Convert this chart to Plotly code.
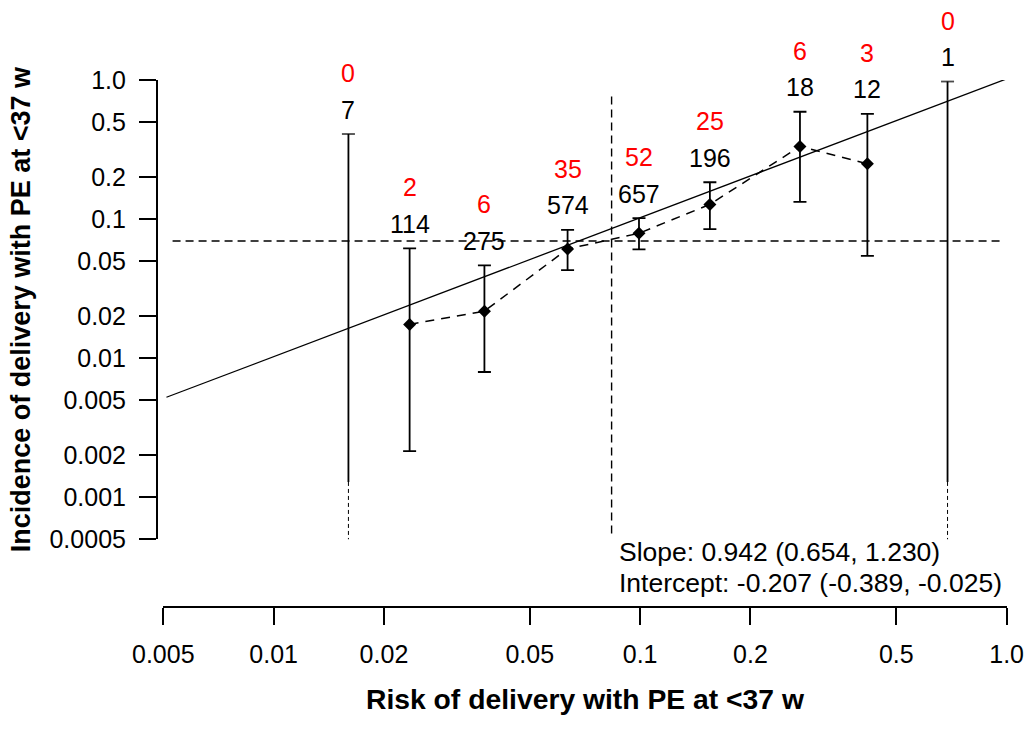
import numpy as np
import plotly.graph_objects as go

# ---------------- data ----------------
predicted = [0.0160, 0.0235, 0.0376, 0.0634, 0.0993, 0.155, 0.273, 0.417, 0.690]
n_total = [7, 114, 275, 574, 657, 196, 18, 12, 1]
n_events = [0, 2, 6, 35, 52, 25, 6, 3, 0]
observed = [None, 0.0175, 0.0218, 0.0610, 0.0791, 0.1276, 0.333, 0.250, None]
ci_upper = [0.409, 0.0617, 0.0465, 0.0836, 0.1015, 0.184, 0.591, 0.570, 0.975]
ci_lower = [None, 0.00215, 0.00796, 0.0430, 0.0605, 0.0848, 0.133, 0.0545, None]
zero_lower_solid = 0.00129     # where the solid bar of a 0-event bin stops
zero_lower_dashed = 0.00047    # where its dashed continuation stops
overall_incidence = 0.0696
mean_risk = 0.0836
cal_x = [0.0051, 1.054]
cal_y = [0.00524, 1.074]
x_ticks = [0.005, 0.01, 0.02, 0.05, 0.1, 0.2, 0.5, 1.0]
x_ticktext = ["0.005", "0.01", "0.02", "0.05", "0.1", "0.2", "0.5", "1.0"]
y_ticks = [0.0005, 0.001, 0.002, 0.005, 0.01, 0.02, 0.05, 0.1, 0.2, 0.5, 1.0]
y_ticktext = ["0.0005", "0.001", "0.002", "0.005", "0.01", "0.02", "0.05",
              "0.1", "0.2", "0.5", "1.0"]
slope_text = "Slope: 0.942 (0.654, 1.230)"
intercept_text = "Intercept: -0.207 (-0.389, -0.025)"
x_title = "Risk of delivery with PE at <37 w"
y_title = "Incidence of delivery with PE at <37 w"

# reference-line extents
hline_x = [0.0053, 0.96]
vline_y = [0.00055, 0.82]

# ---------------- layout geometry (pixels) ----------------
W, H = 1032, 731
FONT = "Liberation Sans, Arial, sans-serif"


def fx(p):
    return p / W


def fy(p):
    return 1 - p / H


fig = go.Figure()

dash_ref = "8px,5px"

# overall incidence (horizontal) and mean risk (vertical) reference lines
fig.add_trace(go.Scatter(x=hline_x, y=[overall_incidence] * 2, mode="lines",
                         line=dict(color="black", width=1.4, dash=dash_ref),
                         hoverinfo="skip"))
fig.add_trace(go.Scatter(x=[mean_risk] * 2, y=vline_y, mode="lines",
                         line=dict(color="black", width=1.4, dash=dash_ref),
                         hoverinfo="skip"))

# calibration line
fig.add_trace(go.Scatter(x=cal_x, y=cal_y, mode="lines",
                         line=dict(color="black", width=1.3), hoverinfo="skip"))

# bins with events
idx = [i for i in range(len(predicted)) if observed[i] is not None]
px_ = [predicted[i] for i in idx]
py_ = [observed[i] for i in idx]
err_p = [ci_upper[i] - observed[i] for i in idx]
err_m = [observed[i] - ci_lower[i] for i in idx]

fig.add_trace(go.Scatter(x=px_, y=py_, mode="lines",
                         line=dict(color="black", width=1.5, dash="9px,7px"),
                         hoverinfo="skip"))
fig.add_trace(go.Scatter(x=px_, y=py_, mode="markers",
                         marker=dict(symbol="diamond", size=10, color="black"),
                         error_y=dict(type="data", symmetric=False, array=err_p,
                                      arrayminus=err_m, color="black",
                                      thickness=1.8, width=6.5),
                         cliponaxis=False))

# zero-event bins: solid bar with top cap, dashed continuation downward
zidx = [i for i in range(len(predicted)) if observed[i] is None]
zx, zy, zs = [], [], []
dx, dy = [], []
for i in zidx:
    zx += [predicted[i], predicted[i], None]
    zy += [ci_upper[i], zero_lower_solid, None]
    zs += [9.3, 0, 0]
    dx += [predicted[i], predicted[i], None]
    dy += [zero_lower_solid, zero_lower_dashed, None]
fig.add_trace(go.Scatter(x=zx, y=zy, mode="lines+markers",
                         line=dict(color="black", width=1.8),
                         marker=dict(symbol="line-ew", size=zs,
                                     line=dict(color="black", width=1.8)),
                         cliponaxis=False, hoverinfo="skip"))
fig.add_trace(go.Scatter(x=dx, y=dy, mode="lines",
                         line=dict(color="black", width=1.0, dash="4px,3px"),
                         hoverinfo="skip"))

# count labels (black: n, red: events)
annotations = []
for i in range(len(predicted)):
    ax_x = float(np.log10(predicted[i]))
    ax_y = float(np.log10(ci_upper[i]))
    annotations.append(dict(x=ax_x, y=ax_y, xref="x", yref="y", text=str(n_total[i]),
                            showarrow=False, yshift=24.5, yanchor="middle",
                            font=dict(family=FONT, size=25, color="black")))
    annotations.append(dict(x=ax_x, y=ax_y, xref="x", yref="y", text=str(n_events[i]),
                            showarrow=False, yshift=61, yanchor="middle",
                            font=dict(family=FONT, size=25, color="red")))

annotations.append(dict(x=fx(617), y=fy(551.7), xref="paper", yref="paper",
                        text=slope_text, showarrow=False, xanchor="left",
                        yanchor="middle", font=dict(family=FONT, size=26.5, color="black")))
annotations.append(dict(x=fx(617), y=fy(583.3), xref="paper", yref="paper",
                        text=intercept_text, showarrow=False, xanchor="left",
                        yanchor="middle", font=dict(family=FONT, size=26.5, color="black")))

fig.update_layout(
    width=W, height=H,
    margin=dict(l=0, r=0, t=0, b=0),
    paper_bgcolor="white", plot_bgcolor="white",
    showlegend=False,
    font=dict(family=FONT, size=25, color="black"),
    annotations=annotations,
    xaxis=dict(type="log", range=[np.log10(0.005), 0.0],
               domain=[fx(163.3), fx(1006.6)],
               anchor="free", position=fy(607.3),
               showline=True, linecolor="black", linewidth=1.5,
               ticks="outside", ticklen=17, tickwidth=1.5, tickcolor="black",
               tickvals=x_ticks, ticktext=x_ticktext,
               tickfont=dict(family=FONT, size=25, color="black"),
               ticklabelstandoff=8,
               showgrid=False, zeroline=False, automargin=False,
               title=dict(text="<b>" + x_title + "</b>", standoff=21,
                          font=dict(family=FONT, size=28.3, color="black"))),
    yaxis=dict(type="log", range=[np.log10(0.0005), 0.0],
               domain=[fy(539.2), fy(80)],
               anchor="free", position=fx(156.7),
               showline=True, linecolor="black", linewidth=1.5,
               ticks="outside", ticklen=17, tickwidth=1.5, tickcolor="black",
               tickvals=y_ticks, ticktext=y_ticktext,
               tickfont=dict(family=FONT, size=25, color="black"),
               ticklabelstandoff=8,
               showgrid=False, zeroline=False, automargin=False,
               title=dict(text="<b>" + y_title + "</b>", standoff=10,
                          font=dict(family=FONT, size=27, color="black"))),
)

fig.write_html("out.html")
